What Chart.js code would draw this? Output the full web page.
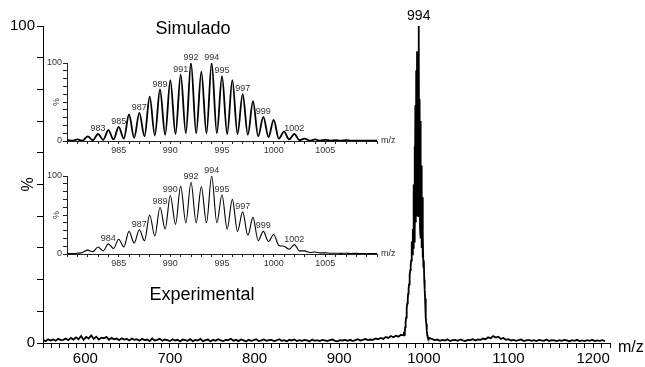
<!DOCTYPE html>
<html>
<head>
<meta charset="utf-8">
<script src="https://cdn.jsdelivr.net/npm/chart.js@4.4.1/dist/chart.umd.min.js"></script>
<style>
  html, body { margin: 0; padding: 0; background: #fff; }
  #wrap { position: relative; width: 645px; height: 367px; }
  #wrap canvas { position: absolute; }
  #main { left: 0; top: 0; }
  #sim { left: 40px; top: 50px; }
  #exp { left: 40px; top: 163px; }
</style>
</head>
<body>
<div id="wrap">
  <canvas id="main" width="645" height="367"></canvas>
  <canvas id="sim" width="365" height="108"></canvas>
  <canvas id="exp" width="365" height="108"></canvas>
</div>
<script>
// main spectrum, baseline noise sampled every 3 m/z
const noiseStep = 3;
const noiseLeftStart = 550;
const noiseLeft = [
  1.0, 0.6, 1.2, 0.8, 1.1, 0.7, 1.3, 0.9, 1.0, 1.4,
  0.9, 1.6, 1.1, 1.8, 1.2, 2.2, 1.0, 1.9, 1.4, 2.4,
  1.3, 2.0, 1.1, 1.7, 1.5, 1.9, 1.0, 1.6, 1.2, 1.4,
  0.9, 1.5, 1.1, 1.3, 0.8, 1.4, 1.0, 1.2, 0.7, 1.3,
  0.9, 1.1, 0.6, 1.4, 0.8, 1.0, 1.3, 0.7, 1.1, 0.9,
  0.6, 1.2, 0.8, 1.0, 0.5, 1.1, 0.9, 0.7, 1.2, 0.6,
  1.0, 0.8, 1.3, 0.6, 0.9, 1.1, 0.5, 1.0, 0.7, 1.2,
  0.8, 0.6, 1.0, 0.9, 1.3, 0.7, 1.0, 0.6, 1.1, 0.8,
  0.5, 1.0, 0.7, 0.9, 1.2, 0.6, 0.8, 1.1, 0.7, 0.9,
  1.0, 0.6, 0.8, 1.2, 0.7, 0.9, 0.5, 1.0, 0.8, 1.1,
  0.6, 0.9, 0.7, 1.0, 0.8, 0.5, 1.1, 0.7, 0.9, 0.6,
  1.0, 0.8, 0.6, 0.9, 1.1, 0.7, 0.5, 0.9, 0.8, 1.0,
  0.7, 1.0, 0.6, 0.9, 1.2, 0.8, 1.0, 1.3, 0.9, 1.1,
  1.0, 1.4, 1.2, 1.6, 1.3, 1.9, 1.6, 2.2, 1.8, 2.3,
  2.0, 2.6
];
const noiseRightStart = 1007;
const noiseRight = [
  1.6, 1.2, 0.9, 1.1, 0.7, 1.0, 0.8, 1.2, 0.6, 0.9,
  1.0, 0.7, 1.1, 0.8, 0.6, 1.0, 0.9, 1.2, 0.8, 1.1,
  1.0, 1.4, 1.2, 1.8, 1.5, 2.2, 1.7, 2.0, 1.3, 1.6,
  1.0, 1.2, 0.8, 1.0, 0.7, 0.9, 1.1, 0.6, 0.8, 1.0,
  0.7, 0.9, 0.6, 1.0, 0.8, 0.7, 1.1, 0.6, 0.9, 0.8,
  0.6, 0.9, 0.7, 1.0, 0.8, 0.5, 0.9, 0.7, 1.0, 0.6,
  0.8, 0.6, 0.9, 0.7, 1.0, 0.6, 0.8, 0.7, 0.9, 0.6
];
// main peak, every 0.5 m/z from 976 to 1006
const halfStep = 0.5;
const mainPeakStart = 976;
const mainPeak = [
  2.4, 2.8, 2.6, 3.5, 5, 6.5, 8, 9.5, 11, 12.5,
  14, 15.5, 17, 18.5, 20, 21.5, 23, 24.5, 26, 27,
  32, 28, 36, 30, 50, 32, 62, 34, 75, 38,
  86, 40, 92, 40, 86, 40, 100, 40, 77, 36,
  70, 33, 56, 30, 46, 27, 34, 24, 26, 20,
  17, 14, 11, 8, 6, 4, 2.5, 2, 1.6, 1.4,
  1.5
];
// insets, every 0.5 m/z from 979 to 1010
const insetStart = 979;
const simulado = [
  0.5, 0.5, 1, 0.5, 2, 0.5, 6, 1, 9, 1.5,
  14, 2, 18, 3, 34, 4, 36, 6, 57, 7,
  66, 8, 78, 9, 85, 10, 100, 10, 89, 10,
  100, 10, 83, 9, 78, 9, 60, 8, 51, 6,
  31, 5, 27, 3, 12, 2, 9, 1, 3, 0.5,
  2, 0.5, 1.5, 0.5, 1, 0.5, 1, 0.5, 0.5, 0.5,
  0.5, 0.5, 0.5
];
const experimental = [
  0.8, 0.6, 0.8, 0.6, 1, 2, 5, 3, 9, 4,
  13, 7, 19, 9, 29, 14, 31, 17, 50, 23,
  60, 32, 75, 38, 87, 40, 92, 40, 86, 40,
  100, 40, 76, 32, 70, 29, 54, 24, 47, 17,
  29, 16, 25, 11, 10, 6, 12, 4, 4, 2,
  2.5, 1.5, 1.5, 1, 1, 0.8, 1, 0.7, 0.8, 0.6,
  0.7, 0.6, 0.6
];
const simLabels = [983, 985, 987, 989, 991, 992, 994, 995, 997, 999, 1002];
const expLabels = [984, 987, 989, 990, 992, 994, 995, 997, 999, 1002];
const mainLabels = [994];

const FONT = '"Liberation Sans", Arial, sans-serif';

function toPoints(start, step, values) {
  return values.map((v, i) => ({ x: start + i * step, y: v }));
}

const mainPoints = toPoints(noiseLeftStart, noiseStep, noiseLeft)
  .concat(toPoints(mainPeakStart, halfStep, mainPeak))
  .concat(toPoints(noiseRightStart, noiseStep, noiseRight));

function drawPeakLabels(chart, labels, size, color, gap) {
  const ctx = chart.ctx;
  const xs = chart.scales.x, ys = chart.scales.y;
  const pts = chart.data.datasets[0].data;
  ctx.save();
  ctx.font = size + 'px ' + FONT;
  ctx.fillStyle = color;
  ctx.textAlign = 'center';
  ctx.textBaseline = 'bottom';
  labels.forEach(mz => {
    const p = pts.find(d => d.x === mz);
    ctx.fillText(String(mz), xs.getPixelForValue(mz), ys.getPixelForValue(p.y) - gap);
  });
  ctx.restore();
}

function drawText(ctx, text, x, y, size, align, rotate, color) {
  ctx.save();
  ctx.font = size + 'px ' + FONT;
  ctx.fillStyle = color || '#000';
  ctx.textAlign = align || 'center';
  ctx.textBaseline = 'middle';
  ctx.translate(x, y);
  if (rotate) ctx.rotate(-Math.PI / 2);
  ctx.fillText(text, 0, 0);
  ctx.restore();
}

const mainText = {
  id: 'mainText',
  afterDraw(chart) {
    const { ctx, scales: { x, y } } = chart;
    drawPeakLabels(chart, mainLabels, 14, '#000', 3);
    drawText(ctx, 'm/z', x.right + 8, y.getPixelForValue(0) + 5, 16, 'left');
    drawText(ctx, '%', 29, (y.top + y.bottom) / 2, 16, 'center', true);
    drawText(ctx, 'Simulado', 193, 29, 18);
    drawText(ctx, 'Experimental', 202, 295, 18);
  }
};

new Chart(document.getElementById('main'), {
  type: 'line',
  data: {
    datasets: [{
      data: mainPoints,
      borderColor: '#000',
      borderWidth: 1.8,
      pointRadius: 0,
      tension: 0
    }]
  },
  options: {
    responsive: false,
    animation: false,
    devicePixelRatio: 1,
    layout: { padding: { top: 26, right: 35, left: 0, bottom: 0 } },
    plugins: { legend: { display: false }, tooltip: { enabled: false } },
    scales: {
      x: {
        type: 'linear',
        min: 550,
        max: 1220,
        afterFit: s => { s.height = 24; },
        grid: { drawOnChartArea: false, tickLength: 5, color: '#000' },
        border: { color: '#000', width: 1 },
        ticks: {
          stepSize: 10,
          autoSkip: false,
          maxRotation: 0,
          padding: 2,
          color: '#000',
          font: { family: FONT, size: 15 },
          callback: v => (v % 100 === 0 ? String(v) : '')
        }
      },
      y: {
        min: 0,
        max: 100,
        afterFit: s => { s.width = 43; },
        grid: { drawOnChartArea: false, tickLength: 6, color: '#000' },
        border: { color: '#000', width: 1 },
        ticks: {
          stepSize: 10,
          autoSkip: false,
          padding: 2,
          color: '#000',
          font: { family: FONT, size: 15 },
          callback: v => (v === 0 || v === 100 ? String(v) : '')
        }
      }
    }
  },
  plugins: [mainText]
});

function makeInset(id, values, labels, lineWidth) {
  const insetText = {
    id: 'insetText',
    afterDraw(chart) {
      const { ctx, scales: { x, y } } = chart;
      drawPeakLabels(chart, labels, 9, '#333', 1);
      drawText(ctx, 'm/z', x.right + 4, y.bottom, 9, 'left', false, '#333');
      drawText(ctx, '%', x.left - 10, y.getPixelForValue(50), 9, 'center', true, '#333');
    }
  };
  new Chart(document.getElementById(id), {
    type: 'line',
    data: {
      datasets: [{
        data: toPoints(insetStart, halfStep, values),
        borderColor: '#000',
        borderWidth: lineWidth,
        pointRadius: 0,
        cubicInterpolationMode: 'monotone'
      }]
    },
    options: {
      responsive: false,
      animation: false,
      devicePixelRatio: 1,
      layout: { padding: { top: 13, right: 28, left: 0, bottom: 0 } },
      plugins: { legend: { display: false }, tooltip: { enabled: false } },
      scales: {
        x: {
          type: 'linear',
          min: 980,
          max: 1010,
          afterFit: s => { s.height = 17; },
          grid: { drawOnChartArea: false, tickLength: 3, color: '#222' },
          border: { color: '#222', width: 1 },
          ticks: {
            stepSize: 1,
            autoSkip: false,
            maxRotation: 0,
            padding: 1,
            color: '#333',
            font: { family: FONT, size: 9 },
            callback: v => (v > 980 && v < 1010 && v % 5 === 0 ? String(v) : '')
          }
        },
        y: {
          min: 0,
          max: 100,
          afterFit: s => { s.width = 27; },
          grid: { drawOnChartArea: false, tickLength: 4, color: '#222' },
          border: { color: '#222', width: 1 },
          ticks: {
            stepSize: 10,
            autoSkip: false,
            padding: 1,
            color: '#333',
            font: { family: FONT, size: 9 },
            callback: v => (v === 0 || v === 100 ? String(v) : '')
          }
        }
      }
    },
    plugins: [insetText]
  });
}

makeInset('sim', simulado, simLabels, 1.8);
makeInset('exp', experimental, expLabels, 1.1);
</script>
</body>
</html>
